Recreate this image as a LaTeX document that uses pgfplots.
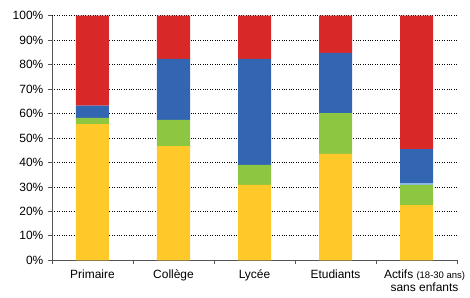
\documentclass[border=0pt]{standalone}
\usepackage{fontspec}
\setmainfont{Liberation Sans}
\usepackage{pgfplots}
\pgfplotsset{compat=1.18}
\definecolor{cyel}{HTML}{FFC92A}
\definecolor{cgrn}{HTML}{8DC641}
\definecolor{clbl}{HTML}{8CB8E8}
\definecolor{cblu}{HTML}{3366B2}
\definecolor{cred}{HTML}{D92828}
\definecolor{caxis}{HTML}{555555}
\begin{document}
\fontsize{12}{13}\selectfont
\begin{tikzpicture}
\begin{axis}[
  scale only axis,
  width=405bp, height=244.6bp,
  ybar stacked,
  bar width=33bp,
  xmin=-0.5, xmax=4.5,
  ymin=0, ymax=100,
  xtick={0,1,2,3,4},
  xticklabels={Primaire,Collège,Lycée,Etudiants,{\hspace*{16bp}Actifs {\fontsize{9.5}{10}\selectfont(18-30 ans)}\\\hspace*{16bp}sans enfants}},
  xticklabel style={align=center, text depth=0pt},
  x tick label style={yshift=-1bp},
  minor xtick={-0.5,0.5,1.5,2.5,3.5,4.5},
  major x tick style={draw=none},
  minor x tick style={draw=caxis, line width=0.8pt},
  ytick={0,10,...,100},
  yticklabel={\pgfmathprintnumber{\tick}\%},
  /pgf/number format/assume math mode=true,
  tick align=outside,
  major tick length=4bp,
  minor tick length=4bp,
  axis x line*=bottom,
  axis y line*=left,
  axis line style={draw=caxis, line width=1pt},
  y tick style={draw=caxis, line width=0.8pt},
  ymajorgrids,
  major grid style={black, dotted, line width=0.7pt},
  tick label style={font=\fontsize{12}{13}\selectfont},
  yticklabel style={xshift=-0.5bp},
  every axis plot/.append style={draw=none},
  axis on top=false,
]
\addplot[fill=cyel] coordinates {(0,55.7) (1,46.7) (2,30.8) (3,43.5) (4,22.6)};
\addplot[fill=cgrn] coordinates {(0,2.5) (1,10.7) (2,8.2) (3,16.7) (4,8.2)};
\addplot[fill=clbl] coordinates {(0,0) (1,0) (2,0) (3,0) (4,0.9)};
\addplot[fill=cblu] coordinates {(0,5.0) (1,24.9) (2,43.3) (3,24.6) (4,13.8)};
\addplot[fill=cred] coordinates {(0,36.8) (1,17.7) (2,17.7) (3,15.2) (4,54.5)};
\end{axis}
\pgfresetboundingbox
\path[use as bounding box] (-52bp,-37.7bp) rectangle (418bp,260.3bp);
\end{tikzpicture}
\end{document}
